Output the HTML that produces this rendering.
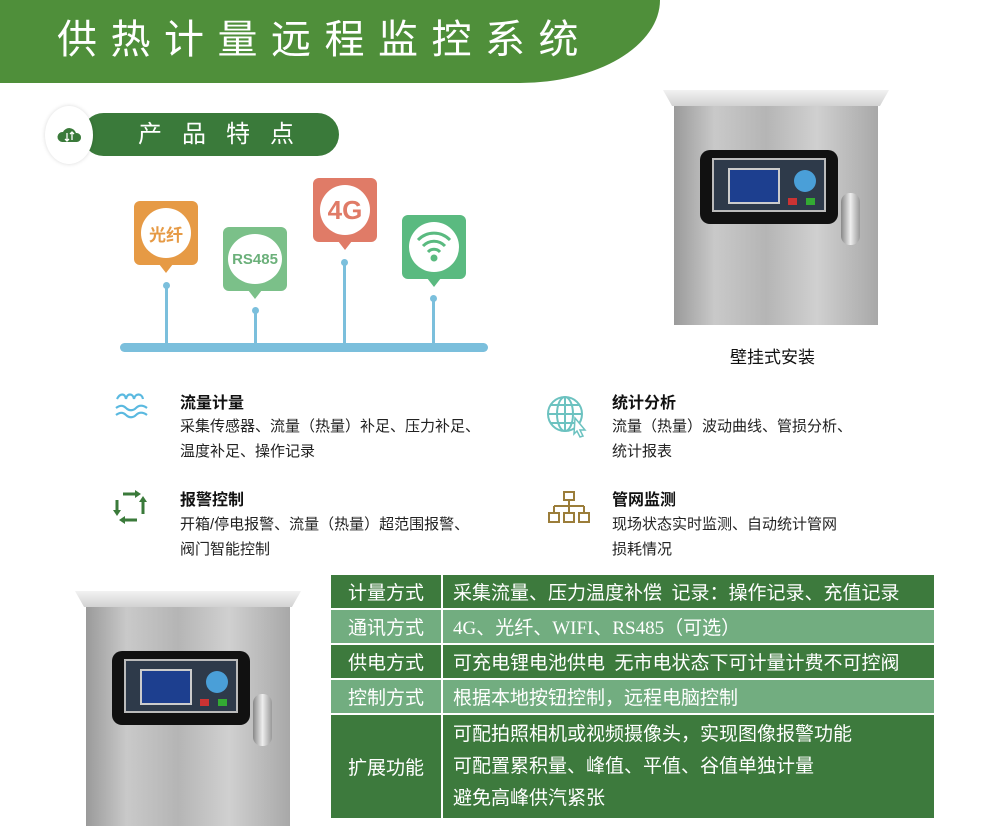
<!DOCTYPE html>
<html><head><meta charset="utf-8"><style>
*{margin:0;padding:0;box-sizing:border-box}
body{width:1000px;height:832px;background:#fff;position:relative;overflow:hidden;font-family:"Liberation Sans","Noto Sans CJK SC",sans-serif;color:#222}
.a{position:absolute}
.hdr{left:0;top:0;width:660px;height:83px;background:#4f8f3a;border-bottom-right-radius:140px 83px}
.title{left:57px;top:12px;font-size:40px;color:#fff;letter-spacing:13.5px;font-weight:400;line-height:56px}
.pill{left:82px;top:113px;width:257px;height:43px;background:#3a7a3a;border-radius:22px}
.pilltxt{left:138px;top:115px;font-size:24px;color:#fff;letter-spacing:20px;line-height:40px}
.circ{left:45px;top:106px;width:48px;height:58px;border-radius:50%;background:#fff;box-shadow:0 0 4px rgba(0,0,0,.15)}
.bub{border-radius:6px}
.bc{position:absolute;border-radius:50%;background:#fff;display:flex;align-items:center;justify-content:center;font-weight:bold}
.tail{position:absolute;width:0;height:0;border-left:7px solid transparent;border-right:7px solid transparent}
.vl{background:#7bbfdc;width:3px}
.dot{width:7px;height:7px;border-radius:50%;background:#7bbfdc}
.ft{font-size:16px;font-weight:bold;color:#111}
.fd{font-size:15px;line-height:25px;color:#222}
.cab{position:absolute;width:204px;height:219px;background:linear-gradient(90deg,#9a9a9a 0%,#c9c9c9 20%,#b5b5b5 45%,#d0d0d0 70%,#a8a8a8 100%)}
.lid{position:absolute;left:-11px;top:-16px;width:226px;height:16px;background:linear-gradient(#f2f2f2,#d2d2d2);clip-path:polygon(0 0,100% 0,96% 100%,4% 100%)}
.win{position:absolute;left:26px;top:44px;width:138px;height:74px;background:#111;border-radius:10px}
.scr{position:absolute;left:12px;top:8px;width:114px;height:54px;background:#2e3a4a;border:2px solid #bbb}
.lcd{position:absolute;left:14px;top:8px;width:52px;height:36px;background:#1d3f8f;border:2px solid #ccc}
.hnd{position:absolute;left:167px;top:87px;width:19px;height:52px;border-radius:9px;background:linear-gradient(90deg,#888,#eee,#999)}
table{border-collapse:collapse;position:absolute;left:329px;top:573px;width:607px}
td{color:#fff;font-size:19px;border:2px solid #fff;padding:0 0 0 10px;font-family:"Liberation Serif","Noto Sans CJK SC",sans-serif}
td.k{width:112px;text-align:center;padding:0}
tr.d td{background:#3d7a3d}
tr.l td{background:#72ad80}
</style></head><body>
<div class="a hdr"></div>
<div class="a title">供热计量远程监控系统</div>
<div class="a pill"></div>
<div class="a circ"></div>
<svg class="a" style="left:57px;top:124px" width="26" height="22" viewBox="0 0 26 22"><path d="M5 18a5 5 0 0 1 1-10a7 7 0 0 1 13 1a4.5 4.5 0 0 1 1 9z" fill="#3a7a3a"/><path d="M10 9v8M8 15l2 2 2-2M15 16V8M13 10l2-2 2 2" stroke="#fff" stroke-width="1.3" fill="none"/></svg>
<div class="a pilltxt">产品特点</div>

<div class="a" style="left:120px;top:343px;width:368px;height:9px;border-radius:5px;background:#7bbfdc"></div>
<div class="a vl" style="left:165px;top:285px;height:60px"></div><div class="a dot" style="left:163px;top:282px"></div>
<div class="a vl" style="left:254px;top:310px;height:35px"></div><div class="a dot" style="left:252px;top:307px"></div>
<div class="a vl" style="left:343px;top:262px;height:83px"></div><div class="a dot" style="left:341px;top:259px"></div>
<div class="a vl" style="left:432px;top:298px;height:47px"></div><div class="a dot" style="left:430px;top:295px"></div>

<div class="a bub" style="left:134px;top:201px;width:64px;height:64px;background:#e69a45"><div class="bc" style="left:7px;top:7px;width:50px;height:50px;color:#e69a45;font-size:17px">光纤</div><div class="tail" style="left:25px;top:63px;border-top:9px solid #e69a45"></div></div>
<div class="a bub" style="left:223px;top:227px;width:64px;height:64px;background:#7bc089"><div class="bc" style="left:5px;top:7px;width:54px;height:50px;color:#6bb07a;font-size:15px">RS485</div><div class="tail" style="left:25px;top:63px;border-top:9px solid #7bc089"></div></div>
<div class="a bub" style="left:313px;top:178px;width:64px;height:64px;background:#e07b67"><div class="bc" style="left:7px;top:7px;width:50px;height:50px;color:#e07b67;font-size:26px">4G</div><div class="tail" style="left:25px;top:63px;border-top:9px solid #e07b67"></div></div>
<div class="a bub" style="left:402px;top:215px;width:64px;height:64px;background:#5aba80"><div class="bc" style="left:7px;top:7px;width:50px;height:50px"><svg width="40" height="34" viewBox="0 0 40 34"><path d="M4 10a22 22 0 0 1 32 0M9 16a15 15 0 0 1 22 0M14 22a8 8 0 0 1 12 0" stroke="#5aba80" stroke-width="3" fill="none"/><circle cx="20" cy="28" r="3.5" fill="#5aba80"/></svg></div><div class="tail" style="left:25px;top:63px;border-top:9px solid #5aba80"></div></div>

<svg class="a" style="left:113px;top:390px" width="38" height="30" viewBox="0 0 38 30"><g stroke="#5ab9e0" stroke-width="2.2" fill="none"><path d="M4 9c3-6 8-6 9 0c1-6 7-6 8 0c1-6 8-6 9 0"/><path d="M3 18c4-3 7-3 10 0s7 3 10 0 7-3 11 0"/><path d="M3 25c4-3 7-3 10 0s7 3 10 0 7-3 11 0"/></g></svg>
<div class="a ft" style="left:180px;top:389px">流量计量</div>
<div class="a fd" style="left:180px;top:414px">采集传感器、流量（热量）补足、压力补足、<br>温度补足、操作记录</div>

<svg class="a" style="left:113px;top:488px" width="34" height="38" viewBox="0 0 34 38"><g stroke="#3a7a3a" stroke-width="3" fill="none"><path d="M10 6h12M24 32h-12M4 12v10M30 14v12"/></g><g fill="#3a7a3a"><path d="M22 2l6 4-6 4z"/><path d="M12 28l-6 4 6 4z"/><path d="M0 22l4 6 4-6z"/><path d="M26 14l4-6 4 6z"/></g></svg>
<div class="a ft" style="left:180px;top:486px">报警控制</div>
<div class="a fd" style="left:180px;top:512px">开箱/停电报警、流量（热量）超范围报警、<br>阀门智能控制</div>

<svg class="a" style="left:545px;top:394px" width="48" height="46" viewBox="0 0 48 46"><g stroke="#6cc2c0" stroke-width="2" fill="none"><circle cx="20" cy="20" r="17"/><ellipse cx="20" cy="20" rx="8" ry="17"/><path d="M3 20h34M6 11h28M6 29h26M20 3v34"/></g><path d="M30 24l10 12-5 0 3 6-3 1-3-6-3 3z" fill="#fff" stroke="#6cc2c0" stroke-width="1.5"/></svg>
<div class="a ft" style="left:612px;top:389px">统计分析</div>
<div class="a fd" style="left:612px;top:414px">流量（热量）波动曲线、管损分析、<br>统计报表</div>

<svg class="a" style="left:548px;top:490px" width="44" height="40" viewBox="0 0 44 40"><g stroke="#9b7d3a" stroke-width="2" fill="none"><rect x="16" y="2" width="10" height="8"/><path d="M21 10v6M6 16h30M6 16v7M21 16v7M36 16v7"/><rect x="1" y="23" width="10" height="9"/><rect x="16" y="23" width="10" height="9"/><rect x="31" y="23" width="10" height="9"/></g></svg>
<div class="a ft" style="left:612px;top:486px">管网监测</div>
<div class="a fd" style="left:612px;top:512px">现场状态实时监测、自动统计管网<br>损耗情况</div>

<div class="cab" style="left:674px;top:106px"><div class="lid"></div><div class="win"><div class="scr"><div class="lcd"></div>
<div style="position:absolute;left:80px;top:10px;width:22px;height:22px;border-radius:50%;background:#4a9fd8"></div>
<div style="position:absolute;left:74px;top:38px;width:9px;height:7px;background:#c33"></div><div style="position:absolute;left:92px;top:38px;width:9px;height:7px;background:#3a3"></div></div></div><div class="hnd"></div></div>
<div class="a" style="left:730px;top:343px;font-size:17px;color:#111">壁挂式安装</div>

<div class="cab" style="left:86px;top:607px"><div class="lid"></div><div class="win"><div class="scr"><div class="lcd"></div>
<div style="position:absolute;left:80px;top:10px;width:22px;height:22px;border-radius:50%;background:#4a9fd8"></div>
<div style="position:absolute;left:74px;top:38px;width:9px;height:7px;background:#c33"></div><div style="position:absolute;left:92px;top:38px;width:9px;height:7px;background:#3a3"></div></div></div><div class="hnd"></div></div>

<table>
<tr class="d" style="height:35px"><td class="k">计量方式</td><td>采集流量、压力温度补偿&nbsp; 记录：操作记录、充值记录</td></tr>
<tr class="l" style="height:35px"><td class="k">通讯方式</td><td>4G、光纤、WIFI、RS485（可选）</td></tr>
<tr class="d" style="height:35px"><td class="k">供电方式</td><td>可充电锂电池供电&nbsp; 无市电状态下可计量计费不可控阀</td></tr>
<tr class="l" style="height:35px"><td class="k">控制方式</td><td>根据本地按钮控制，远程电脑控制</td></tr>
<tr class="d" style="height:105px"><td class="k">扩展功能</td><td style="line-height:32px">可配拍照相机或视频摄像头，实现图像报警功能<br>可配置累积量、峰值、平值、谷值单独计量<br>避免高峰供汽紧张</td></tr>
</table>
</body></html>
